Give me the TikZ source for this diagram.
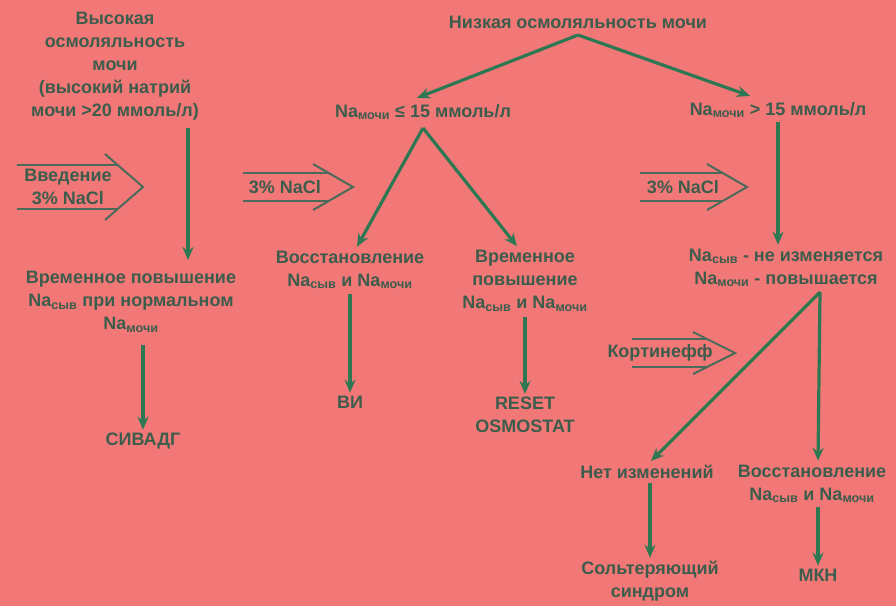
\documentclass[tikz,border=0pt]{standalone}
\usepackage{fontspec}
\setmainfont{Liberation Sans}
\usetikzlibrary{arrows.meta}
\definecolor{bgc}{RGB}{242,120,119}
\definecolor{txtc}{RGB}{60,92,76}
\definecolor{arrc}{RGB}{45,120,82}
\definecolor{holc}{RGB}{74,106,90}
\newcommand\sub[1]{\textsubscript{#1}}
\newcommand\hollowarr[6]{%
  \pgfmathsetmacro\xa{#2+(#3-#2)*(#6-#5)/#6}%
  \draw[hol] (#1,#4-#5) -- (\xa,#4-#5);
  \draw[hol] (#1,#4+#5) -- (\xa,#4+#5);
  \draw[hol] (#2,#4-#6) -- (#3,#4) -- (#2,#4+#6);
}
\tikzset{
  txt/.style={text=txtc, font=\fontsize{18}{23}\selectfont\bfseries, align=center, inner sep=1pt},
  arr/.style={draw=arrc, line width=3.2pt, -{Stealth[length=13pt,width=11pt]}},
  hol/.style={draw=holc, line width=2pt, line join=miter},
}
\begin{document}
\begin{tikzpicture}[x=1pt,y=-1pt]
\fill[bgc] (0,0) rectangle (896,606);
\useasboundingbox (0,0) rectangle (896,606);

% left column
\node[txt] (high) at (115,66) {Высокая\\осмоляльность\\мочи\\(высокий натрий\\мочи >20 ммоль/л)};
\coordinate (highS) at (188,128);
\node[txt] (vrem1) at (131,302) {Временное повышение\\Na\sub{сыв} при нормальном\\Na\sub{мочи}};
\coordinate (vrem1T) at (188,260);
\draw[arr] (highS) -- (vrem1T);
\coordinate (vrem1S) at (143,345);
\node[txt] (sivadg) at (143,441) {СИВАДГ};
\draw[arr] (vrem1S) -- ([yshift=2pt]sivadg.north);

\hollowarr{17}{105}{143}{187}{22}{33}
\node[txt] (vved) at (68,187) {Введение\\3\% NaCl};

% low osmolality
\node[txt] (low) at (578,22) {Низкая осмоляльность мочи};
\coordinate (lowapex) at (578,35);
\node[txt] (naL) at (423,112) {Na\sub{мочи} ≤ 15 ммоль/л};
\node[txt] (naR) at (778,110) {Na\sub{мочи} > 15 ммоль/л};
\draw[arr] (lowapex) -- ([xshift=-6pt,yshift=5pt]naL.north);
\draw[arr] (lowapex) -- ([xshift=-28pt,yshift=5pt]naR.north);

% middle branch
\hollowarr{243}{313}{353}{187}{14}{23}
\node[txt] (nacl2) at (285,187) {3\% NaCl};
\coordinate (naLapex) at (423,128);
\node[txt] (vosst1) at (350,270) {Восстановление\\Na\sub{сыв} и Na\sub{мочи}};
\node[txt] (vrem2) at (525,281) {Временное\\повышение\\Na\sub{сыв} и Na\sub{мочи}};
\draw[arr] (naLapex) -- ([xshift=7pt,yshift=3pt]vosst1.north);
\draw[arr] (naLapex) -- ([xshift=-8pt,yshift=3pt]vrem2.north);
\node[txt] (vi) at (350,402) {ВИ};
\draw[arr] ([yshift=-4pt]vosst1.south) -- ([yshift=2pt]vi.north);
\node[txt] (reset) at (525,415) {RESET\\OSMOSTAT};
\draw[arr] ([yshift=-4pt]vrem2.south) -- ([yshift=2pt]reset.north);

% right branch
\hollowarr{640}{707}{747}{187}{14}{23}
\node[txt] (nacl3) at (683,187) {3\% NaCl};
\node[txt] (nechg) at (786,268) {Na\sub{сыв} - не изменяется\\Na\sub{мочи} - повышается};
\draw[arr] ([yshift=-3pt]naR.south) -- ([xshift=-8pt,yshift=3pt]nechg.north);
\coordinate (rapex) at (820,292);

\hollowarr{632}{693}{735}{353}{14}{21}
\node[txt] (kort) at (660,353) {Кортинефф};

\node[txt] (net) at (647,472) {Нет изменений};
\node[txt] (vosst2) at (812,484) {Восстановление\\Na\sub{сыв} и Na\sub{мочи}};
\draw[arr] (rapex) -- ([xshift=4pt,yshift=3pt]net.north);
\draw[arr] (rapex) -- ([xshift=6pt,yshift=3pt]vosst2.north);
\node[txt] (salt) at (650,581) {Сольтеряющий\\синдром};
\draw[arr] ([xshift=3pt,yshift=-3pt]net.south) -- ([yshift=2pt]salt.north);
\node[txt] (mkn) at (818,575) {МКН};
\draw[arr] ([xshift=6pt,yshift=-3pt]vosst2.south) -- ([yshift=2pt]mkn.north);
\end{tikzpicture}
\end{document}
